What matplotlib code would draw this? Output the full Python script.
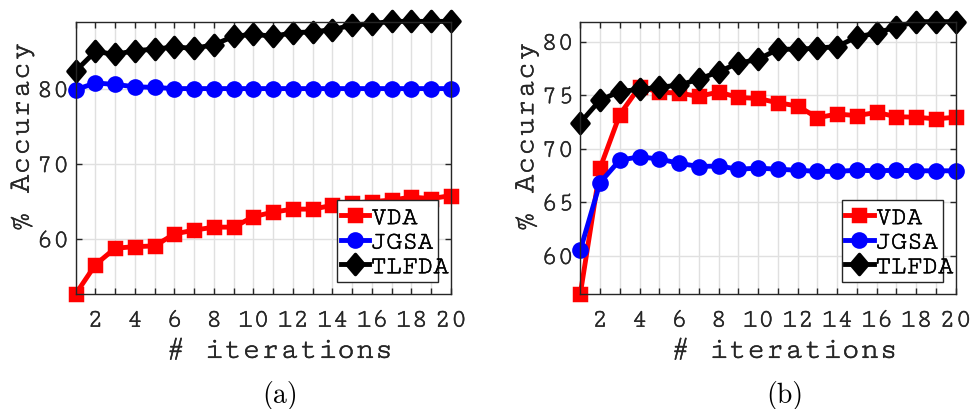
import numpy as np
import matplotlib
matplotlib.use('Agg')
from matplotlib import pyplot as plt
from matplotlib import font_manager
from matplotlib import patheffects
from matplotlib.path import Path
from matplotlib.patches import Rectangle

# accuracy (%) per iteration, panel (a)
iterations = np.arange(1, 21)
vda_a = [52.7, 56.6, 58.8, 59.0, 59.1, 60.7, 61.2, 61.6, 61.6, 63.0,
         63.6, 64.0, 64.0, 64.5, 64.8, 65.0, 65.2, 65.6, 65.4, 65.8]
jgsa_a = [79.9, 80.8, 80.6, 80.3, 80.2, 80.05, 80.05, 80.05, 80.05, 80.05,
          80.05, 80.05, 80.05, 80.05, 80.05, 80.05, 80.05, 80.05, 80.05, 80.05]
tlfda_a = [82.4, 85.0, 84.6, 85.1, 85.3, 85.6, 85.4, 85.9, 87.0, 87.3,
           87.0, 87.5, 87.6, 87.9, 88.5, 88.7, 89.0, 89.0, 89.0, 89.0]

# accuracy (%) per iteration, panel (b)
vda_b = [56.45, 68.2, 73.2, 75.8, 75.3, 75.2, 74.9, 75.3, 74.8, 74.7,
         74.3, 74.0, 72.9, 73.25, 73.1, 73.4, 73.0, 72.95, 72.8, 72.95]
jgsa_b = [60.55, 66.85, 68.95, 69.25, 69.05, 68.65, 68.35, 68.4, 68.1, 68.2,
          68.1, 68.0, 67.9, 67.9, 68.0, 67.95, 68.0, 67.95, 67.95, 67.95]
tlfda_b = [72.45, 74.55, 75.35, 75.55, 75.75, 75.95, 76.5, 77.2, 78.0, 78.35,
           79.3, 79.3, 79.4, 79.55, 80.45, 80.8, 81.4, 81.87, 81.87, 81.87]

yticks_a = [60, 70, 80]
yticks_b = [60, 65, 70, 75, 80]
method_names = ['VDA', 'JGSA', 'TLFDA']
captions = ['(a)', '(b)']

# pick a Courier-like face if one is installed
available = set(f.name for f in font_manager.fontManager.ttflist)
mono = next(n for n in ['Courier New', 'Nimbus Mono PS', 'Cutive Mono',
                        'Courier Prime', 'Liberation Mono'] if n in available)
axcol = '0.15'
# the thin Courier strokes get a little extra weight
thicken = [patheffects.withStroke(linewidth=0.35, foreground=axcol)]
diamond = Path([(0, 1), (0.85, 0), (0, -1), (-0.85, 0), (0, 1)],
               [Path.MOVETO, Path.LINETO, Path.LINETO, Path.LINETO, Path.CLOSEPOLY])

styles = [dict(color='#ff0000', marker='s', markersize=8.5),
          dict(color='#0000ff', marker='o', markersize=9.5),
          dict(color='black', marker=diamond, markersize=14.5)]

fig = plt.figure(figsize=(9.74, 4.09), dpi=100)
ax_a = fig.add_axes([0.0777, 0.2812, 0.3853, 0.6658])
ax_b = fig.add_axes([0.5958, 0.2812, 0.3854, 0.6658])

panels = [(ax_a, [vda_a, jgsa_a, tlfda_a], yticks_a, (52.7, 88.96)),
          (ax_b, [vda_b, jgsa_b, tlfda_b], yticks_b, (56.45, 81.87))]

for (ax, series, yticks, ylim), cap in zip(panels, captions):
    for vals, name, st in zip(series, method_names, styles):
        ax.plot(iterations, vals, lw=3.5, mew=2.5, mec=st['color'],
                mfc=st['color'], label=name, clip_on=False, **st)
    ax.set_xlim(1, 20)
    ax.set_ylim(*ylim)
    ax.set_xticks(iterations)
    ax.set_xticklabels([str(i) if i % 2 == 0 else '' for i in iterations])
    ax.set_yticks(yticks)
    ax.grid(True, color='0.88', lw=1)
    ax.set_axisbelow(True)
    ax.tick_params(direction='in', length=4, width=1, colors=axcol,
                   top=True, right=True, labelsize=19.5)
    ax.tick_params(axis='x', pad=12)
    ax.tick_params(axis='y', pad=4.5)
    for lab in ax.get_xticklabels() + ax.get_yticklabels():
        lab.set_fontfamily(mono)
        lab.set_path_effects(thicken)
    for sp in ax.spines.values():
        sp.set_color(axcol)
        sp.set_linewidth(1)
    xl = ax.set_xlabel('# iterations', fontsize=22.5, fontfamily=mono, color=axcol)
    yl = ax.set_ylabel('% Accuracy', fontsize=22.5, fontfamily=mono, color=axcol)
    xl.set_path_effects(thicken)
    yl.set_path_effects(thicken)
    ax.xaxis.set_label_coords(0.544, -0.172)
    ax.yaxis.set_label_coords(-0.112, 0.577)

    # legend entries without their own frame; the box is drawn separately
    leg = ax.legend(loc='center left', bbox_to_anchor=(0.706, 0.192),
                    prop={'family': mono, 'size': 18.5}, frameon=False,
                    handlelength=1.1, handletextpad=0.08, labelspacing=0.1,
                    borderpad=0, borderaxespad=0)
    for t in leg.get_texts():
        t.set_color('black')
        t.set_path_effects([patheffects.withStroke(linewidth=0.35, foreground='black')])
    ax.add_patch(Rectangle((0.696, 0.044), 0.269, 0.301, transform=ax.transAxes,
                           facecolor='white', edgecolor=axcol, lw=1, zorder=4))
    leg.set_zorder(5)

    pos = ax.get_position()
    fig.text(pos.x0 + 0.544 * pos.width, 1 - 396 / 409, cap, fontsize=20,
             fontfamily='cmr10', ha='center', va='center')

fig.savefig('out.png', dpi=100)
